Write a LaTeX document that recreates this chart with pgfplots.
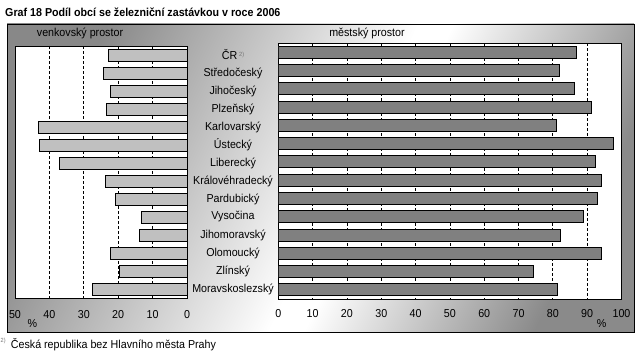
\documentclass[border=0pt]{standalone}
\usepackage{fontspec}
\setmainfont[FakeStretch=0.93]{Liberation Sans}
\usepackage{pgfplots}
\usepackage{pgfplotstable}
\pgfplotsset{compat=1.18}
\newcommand{\lab}{\fontsize{11.5}{13}\selectfont}
\definecolor{ruralbar}{HTML}{C0C0C0}
\definecolor{urbanbar}{HTML}{808080}
\definecolor{bgtl}{HTML}{888888}
\definecolor{bgbr}{HTML}{8A8A8A}
\pgfdeclareverticalshading{bgshade}{100bp}{color(0bp)=(bgbr); color(25bp)=(bgbr); color(45bp)=(white); color(48bp)=(white); color(75bp)=(bgtl); color(100bp)=(bgtl)}

\pgfplotstableread{
idx rural urban
0 22.9 86.8
1 24.3 81.9
2 22.3 86.2
3 23.5 91.2
4 43.2 81.0
5 42.9 97.6
6 37.1 92.3
7 23.7 94.1
8 20.8 92.9
9 13.2 88.8
10 13.9 82.3
11 22.3 94.1
12 19.5 74.3
13 27.5 81.3
}\datatab

\begin{document}
\begin{tikzpicture}
\path[use as bounding box] (0,0) rectangle (642pt,357pt);
\shade[shading=bgshade, shading angle=64] (7pt,25pt) rectangle (634pt,333pt);
\draw[black, line width=0.8pt] (7pt,25pt) rectangle (634pt,333pt);

\pgfplotsset{
  common/.style={
    scale only axis, anchor=south west,
    ymin=-0.5, ymax=13.5, y dir=reverse,
    xmajorgrids,
    major grid style={black, dash pattern=on 3pt off 2pt, line width=0.8pt},
    major tick length=0,
    axis line style={black, line width=0.8pt},
    axis background/.style={fill=white},
    ticklabel style={font=\lab},
    /pgf/number format/assume math mode=true,
    xbar, bar width=12pt,
  }
}

\begin{axis}[common,
  at={(15pt,59pt)}, width=172pt, height=252pt,
  xmin=0, xmax=50, x dir=reverse,
  xtick={0,10,...,50},
  xticklabel style={yshift=-9pt},
  ytick={0,...,13},
  yticklabel pos=right,
  yticklabel style={anchor=center, xshift=46pt},
  yticklabels={{ČR\,\raisebox{3pt}{\color{black!55}\fontsize{6}{6}\selectfont 2)}},Středočeský,Jihočeský,Plzeňský,Karlovarský,Ústecký,Liberecký,Královéhradecký,Pardubický,Vysočina,Jihomoravský,Olomoucký,Zlínský,Moravskoslezský},
]
\addplot[fill=ruralbar, draw=black, line width=0.9pt] table[x=rural, y=idx]{\datatab};
\end{axis}

\begin{axis}[common,
  at={(278.3pt,58pt)}, width=343.2pt, height=256pt,
  xmin=0, xmax=100,
  xtick={0,10,...,100},
  xticklabel style={yshift=-6.5pt},
  ytick=\empty,
]
\addplot[fill=urbanbar, draw=black, line width=0.9pt] table[x=urban, y=idx]{\datatab};
\end{axis}

\node[anchor=base west, inner sep=0pt, font=\bfseries\fontsize{11.5}{13}\selectfont] at (5pt,340pt) {Graf 18 Podíl obcí se železniční zastávkou v roce 2006};
\node[anchor=base, inner sep=0pt, font=\lab] at (80pt,320pt) {venkovský prostor};
\node[anchor=base, inner sep=0pt, font=\lab] at (367pt,320pt) {městský prostor};
\node[anchor=base, inner sep=0pt, font=\lab] at (32.5pt,30pt) {\%};
\node[anchor=base, inner sep=0pt, font=\lab] at (601.5pt,30pt) {\%};
\node[anchor=base west, inner sep=0pt, font=\lab] at (10.7pt,8.7pt) {Česká republika bez Hlavního města Prahy};
\node[anchor=base west, inner sep=0pt, font=\fontsize{6}{6}\selectfont, text=black!55] at (0.5pt,15pt) {2)};
\end{tikzpicture}
\end{document}
